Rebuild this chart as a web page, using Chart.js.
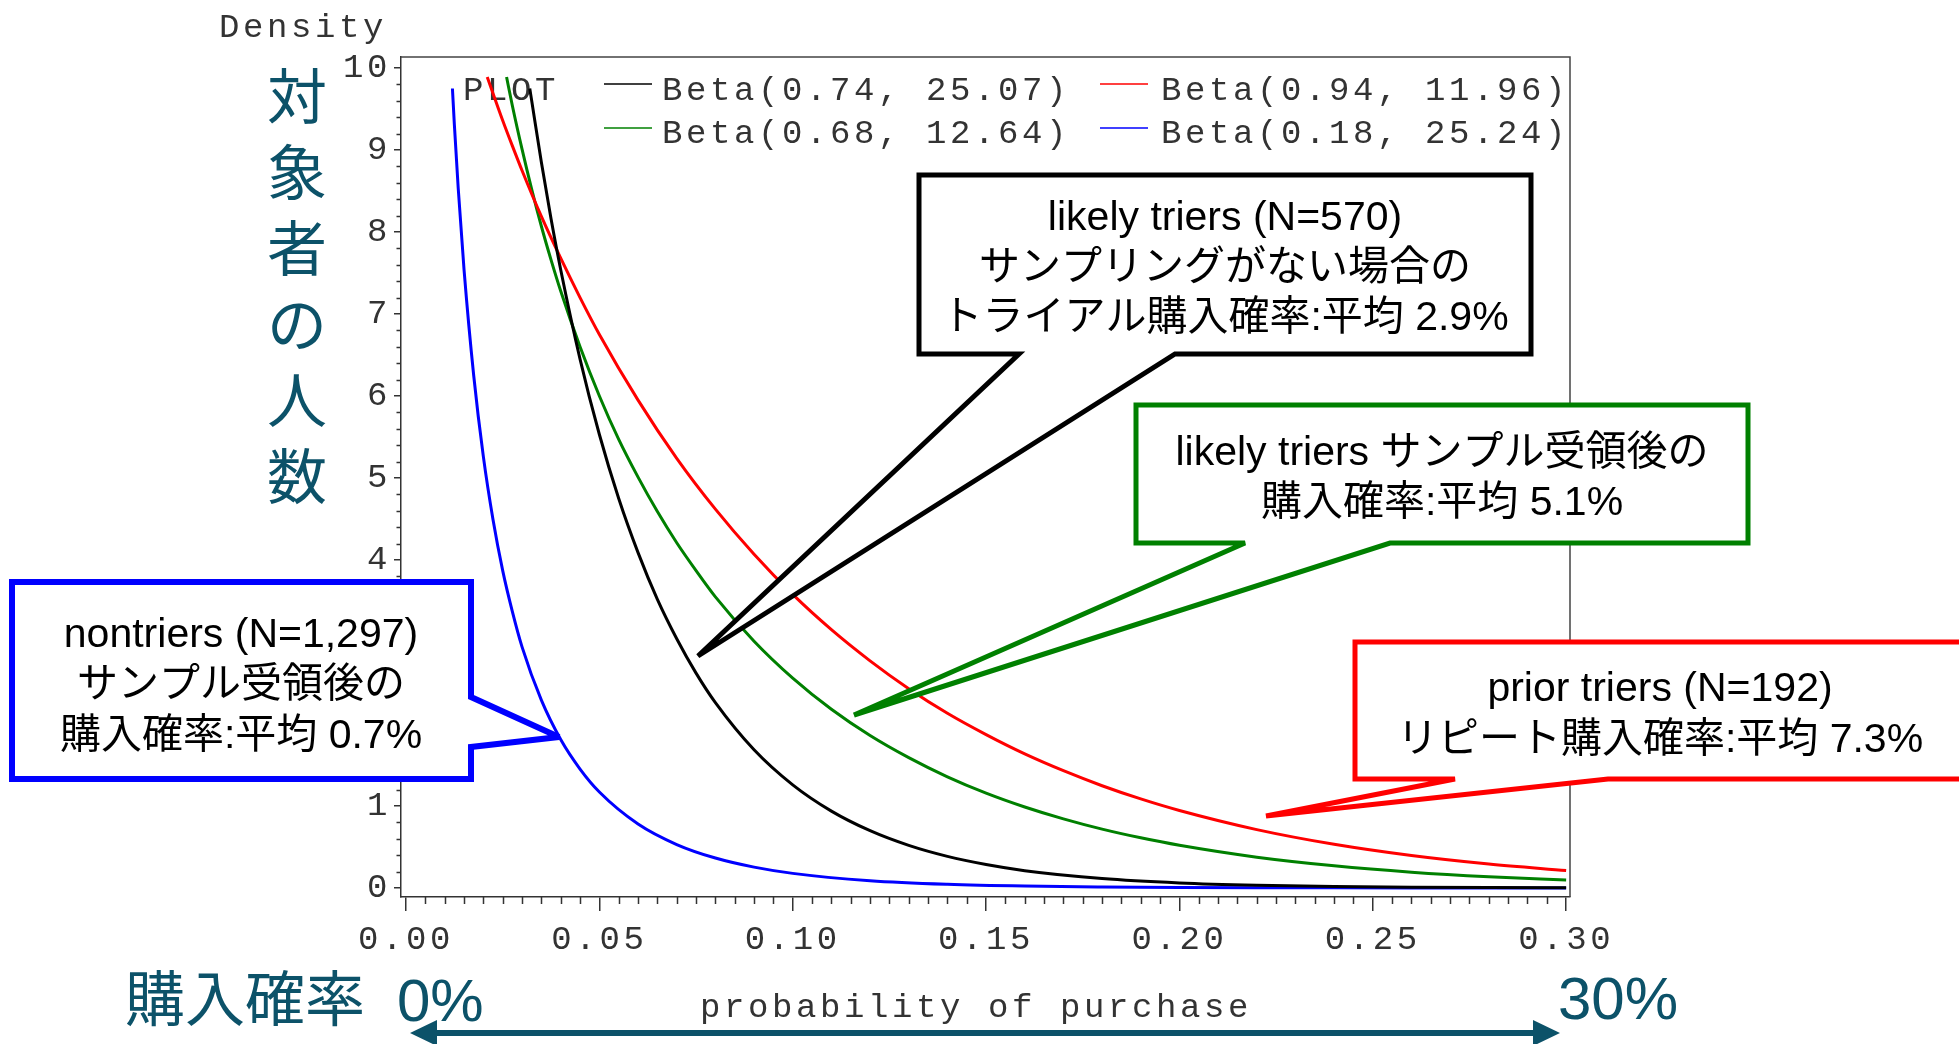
<!DOCTYPE html>
<html>
<head>
<meta charset="utf-8">
<script src="https://cdn.jsdelivr.net/npm/chart.js@4.4.1/dist/chart.umd.min.js"></script>
<style>
    html, body { margin: 0; padding: 0; background: #fff; }
    canvas { display: block; }
</style>
</head>
<body>
<canvas id="myChart" width="1959" height="1044"></canvas>
<script>
// values (density vs probability of purchase)
const blackX = [0.032, 0.0325, 0.035, 0.0375, 0.04, 0.045, 0.05, 0.055, 0.06, 0.065, 0.07, 0.075, 0.08, 0.09, 0.10, 0.11, 0.12, 0.13, 0.14, 0.15, 0.16, 0.18, 0.20, 0.22, 0.24, 0.26, 0.28, 0.30];
const blackY = [9.75, 9.60, 8.85, 8.16, 7.54, 6.45, 5.53, 4.75, 4.09, 3.52, 3.04, 2.62, 2.26, 1.685, 1.257, 0.937, 0.698, 0.519, 0.385, 0.286, 0.211, 0.115, 0.062, 0.033, 0.017, 0.009, 0.0045, 0.0022];

const redX = [0.021, 0.0225, 0.025, 0.0275, 0.03, 0.035, 0.04, 0.045, 0.05, 0.06, 0.07, 0.08, 0.09, 0.10, 0.11, 0.12, 0.13, 0.14, 0.15, 0.16, 0.17, 0.18, 0.19, 0.20, 0.22, 0.24, 0.26, 0.28, 0.30];
const redY = [9.89, 9.69, 9.36, 9.05, 8.75, 8.19, 7.68, 7.20, 6.75, 5.95, 5.24, 4.62, 4.07, 3.58, 3.15, 2.77, 2.43, 2.13, 1.87, 1.635, 1.43, 1.247, 1.086, 0.945, 0.712, 0.533, 0.396, 0.292, 0.213];

const greenX = [0.026, 0.0275, 0.03, 0.0325, 0.035, 0.0375, 0.04, 0.045, 0.05, 0.055, 0.06, 0.065, 0.07, 0.075, 0.08, 0.09, 0.10, 0.11, 0.12, 0.13, 0.14, 0.15, 0.16, 0.17, 0.18, 0.19, 0.20, 0.22, 0.24, 0.26, 0.28, 0.30];
const greenY = [9.89, 9.54, 9.01, 8.52, 8.07, 7.66, 7.28, 6.60, 6.00, 5.47, 5.01, 4.59, 4.21, 3.87, 3.55, 3.01, 2.56, 2.18, 1.86, 1.59, 1.356, 1.157, 0.988, 0.843, 0.718, 0.612, 0.521, 0.376, 0.271, 0.193, 0.137, 0.097];

const blueX = [0.012, 0.0125, 0.0135, 0.015, 0.0175, 0.02, 0.0225, 0.025, 0.0275, 0.03, 0.035, 0.04, 0.045, 0.05, 0.06, 0.07, 0.08, 0.09, 0.10, 0.12, 0.14, 0.16, 0.18, 0.20, 0.22, 0.24, 0.26, 0.28, 0.30];
const blueY = [9.75, 9.31, 8.53, 7.54, 6.25, 5.26, 4.49, 3.87, 3.37, 2.94, 2.29, 1.81, 1.45, 1.17, 0.78, 0.53, 0.365, 0.254, 0.178, 0.089, 0.045, 0.023, 0.012, 0.006, 0.003, 0.0015, 0.0008, 0.0004, 0.0002];

const seriesLabels = ['Beta(0.74, 25.07)', 'Beta(0.94, 11.96)', 'Beta(0.68, 12.64)', 'Beta(0.18, 25.24)'];
const xTickValues = [0, 0.05, 0.10, 0.15, 0.20, 0.25, 0.30];
const yTickValues = [0, 1, 2, 3, 4, 5, 6, 7, 8, 9, 10];

const blackNote = ['likely triers (N=570)', 'サンプリングがない場合の', 'トライアル購入確率:平均 2.9%'];
const greenNote = ['likely triers サンプル受領後の', '購入確率:平均 5.1%'];
const redNote = ['prior triers (N=192)', 'リピート購入確率:平均 7.3%'];
const blueNote = ['nontriers (N=1,297)', 'サンプル受領後の', '購入確率:平均 0.7%'];

const MONO = '"Liberation Mono", "DejaVu Sans Mono", monospace';
const SANS = '"Liberation Sans", Arial, "Noto Sans CJK JP", sans-serif';
const TEAL = '#0c5269';

function toPoints(xs, ys) {
    return xs.map((x, i) => ({ x: x, y: ys[i] }));
}

function monoText(ctx, text, x, y) {
    ctx.save();
    ctx.font = '34px ' + MONO;
    ctx.letterSpacing = '3.6px';
    ctx.fillStyle = '#333';
    ctx.textAlign = 'left';
    ctx.textBaseline = 'alphabetic';
    ctx.fillText(text, x, y);
    ctx.restore();
}

function drawCallout(ctx, pts, color, width, lines, cx, baselines) {
    ctx.save();
    ctx.beginPath();
    ctx.moveTo(pts[0][0], pts[0][1]);
    for (let i = 1; i < pts.length; i++) ctx.lineTo(pts[i][0], pts[i][1]);
    ctx.closePath();
    ctx.fillStyle = '#fff';
    ctx.fill();
    ctx.lineJoin = 'miter';
    ctx.miterLimit = 3;
    ctx.lineWidth = width;
    ctx.strokeStyle = color;
    ctx.stroke();
    ctx.letterSpacing = '0px';
    ctx.font = '41px ' + SANS;
    ctx.fillStyle = '#000';
    ctx.textAlign = 'center';
    ctx.textBaseline = 'alphabetic';
    lines.forEach((t, i) => ctx.fillText(t, cx, baselines[i]));
    ctx.restore();
}

const extras = {
    id: 'extras',
    beforeDraw(chart) {
        chart.ctx.letterSpacing = '3.6px';
    },
    beforeDatasetsDraw(chart) {
        const ctx = chart.ctx;
        const a = chart.chartArea;
        const xs = chart.scales.x, ys = chart.scales.y;
        ctx.save();
        // frame top and right
        ctx.strokeStyle = '#444';
        ctx.lineWidth = 1.5;
        ctx.beginPath();
        ctx.moveTo(a.left, a.top);
        ctx.lineTo(a.right, a.top);
        ctx.lineTo(a.right, a.bottom);
        ctx.stroke();
        // minor ticks
        ctx.strokeStyle = '#333';
        ctx.beginPath();
        for (let i = 1; i < 60; i++) {
            if (i % 10 === 0) continue;
            const px = Math.round(xs.getPixelForValue(i * 0.005)) + 0.5;
            ctx.moveTo(px, a.bottom);
            ctx.lineTo(px, a.bottom + 7);
        }
        for (let i = 1; i < 50; i++) {
            if (i % 5 === 0) continue;
            const py = Math.round(ys.getPixelForValue(i * 0.2)) + 0.5;
            ctx.moveTo(a.left, py);
            ctx.lineTo(a.left - 4.5, py);
        }
        ctx.stroke();
        ctx.restore();

        // legend (under the curves)
        monoText(ctx, 'PLOT', 463, 100);
        const cols = [[604, 662], [1100, 1161]];
        const rows = [[84, 100], [128, 143]];
        chart.data.datasets.forEach((ds, i) => {
            const c = cols[i % 2], r = rows[Math.floor(i / 2)];
            ctx.save();
            ctx.strokeStyle = ds.borderColor;
            ctx.lineWidth = 1.5;
            ctx.beginPath();
            ctx.moveTo(c[0], r[0]);
            ctx.lineTo(c[0] + 48, r[0]);
            ctx.stroke();
            ctx.restore();
            monoText(ctx, ds.label, c[1], r[1]);
        });
    },
    afterDraw(chart) {
        const ctx = chart.ctx;
        ctx.letterSpacing = '0px';
        monoText(ctx, 'Density', 219, 37);
        monoText(ctx, 'probability of purchase', 700, 1017);

        drawCallout(ctx, [[919, 175], [1531, 175], [1531, 354], [1175, 354], [698, 656], [1019, 354], [919, 354]],
            '#000', 5, blackNote, 1225, [230, 280, 330]);
        drawCallout(ctx, [[1136, 405], [1748, 405], [1748, 543], [1390, 543], [854, 715], [1245, 543], [1136, 543]],
            '#008000', 5, greenNote, 1442, [465, 515]);
        drawCallout(ctx, [[1355, 642], [1975, 642], [1975, 779], [1608, 779], [1266, 816], [1455, 779], [1355, 779]],
            '#ff0000', 5, redNote, 1660, [701, 752]);
        drawCallout(ctx, [[12, 582], [471, 582], [471, 697], [559, 737], [471, 747], [471, 779], [12, 779]],
            '#0000ff', 6, blueNote, 241, [647, 697, 748]);

        // teal slide labels
        ctx.save();
        ctx.letterSpacing = '0px';
        ctx.fillStyle = TEAL;
        ctx.font = '60px "Noto Sans CJK JP", sans-serif';
        ctx.textAlign = 'center';
        ctx.textBaseline = 'middle';
        Array.from('対象者の人数').forEach((ch, i) => ctx.fillText(ch, 297, 96 + i * 76));
        ctx.textAlign = 'left';
        ctx.textBaseline = 'alphabetic';
        ctx.fillText('購入確率', 125, 1021);
        ctx.font = '60px ' + SANS;
        ctx.fillText('0%', 397, 1021);
        ctx.fillText('30%', 1558, 1019);
        // arrow
        ctx.strokeStyle = TEAL;
        ctx.lineWidth = 6;
        ctx.beginPath();
        ctx.moveTo(432, 1033);
        ctx.lineTo(1538, 1033);
        ctx.stroke();
        ctx.beginPath();
        ctx.moveTo(410, 1033); ctx.lineTo(437, 1020); ctx.lineTo(437, 1046); ctx.closePath();
        ctx.moveTo(1560, 1033); ctx.lineTo(1533, 1020); ctx.lineTo(1533, 1046); ctx.closePath();
        ctx.fill();
        ctx.restore();
    }
};

const colors = ['#000000', '#ff0000', '#008000', '#0000ff'];
const series = [toPoints(blackX, blackY), toPoints(redX, redY), toPoints(greenX, greenY), toPoints(blueX, blueY)];

new Chart(document.getElementById('myChart').getContext('2d'), {
    type: 'line',
    data: {
        datasets: series.map((pts, i) => ({
            label: seriesLabels[i],
            data: pts,
            borderColor: colors[i],
            borderWidth: 3,
            pointRadius: 0,
            fill: false,
            cubicInterpolationMode: 'monotone'
        }))
    },
    options: {
        responsive: false,
        animation: false,
        devicePixelRatio: 1,
        layout: { padding: { left: 281, right: 389, top: 57, bottom: 57 } },
        plugins: { legend: { display: false }, tooltip: { enabled: false } },
        scales: {
            x: {
                type: 'linear',
                min: -0.0013,
                max: 0.301,
                afterFit: (s) => { s.height = 90; },
                afterBuildTicks: (s) => { s.ticks = xTickValues.map(v => ({ value: v })); },
                grid: { drawOnChartArea: false, drawTicks: true, tickLength: 14, color: '#333', lineWidth: 1.5 },
                border: { display: true, color: '#333', width: 1.5 },
                ticks: {
                    padding: 9,
                    color: '#333',
                    font: { family: MONO, size: 34 },
                    maxRotation: 0,
                    autoSkip: false,
                    callback: (v) => Number(v).toFixed(2)
                }
            },
            y: {
                type: 'linear',
                min: -0.11,
                max: 10.134,
                afterFit: (s) => { s.width = 120; },
                afterBuildTicks: (s) => { s.ticks = yTickValues.map(v => ({ value: v })); },
                grid: { drawOnChartArea: false, drawTicks: true, tickLength: 7, color: '#333', lineWidth: 1.5 },
                border: { display: true, color: '#333', width: 1.5 },
                ticks: {
                    padding: 3,
                    color: '#333',
                    font: { family: MONO, size: 34 },
                    autoSkip: false,
                    callback: (v) => String(v)
                }
            }
        }
    },
    plugins: [extras]
});
</script>
</body>
</html>
